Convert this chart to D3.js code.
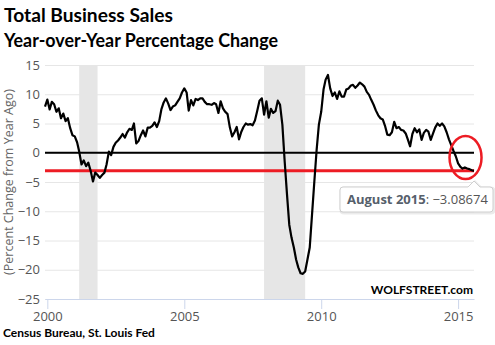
<!DOCTYPE html>
<html>
<head>
<meta charset="utf-8">
<script src="https://cdn.jsdelivr.net/npm/d3@7"></script>
<style>
  body { margin: 0; background: #fff; }
  svg { display: block; }
  .tick text { font-family: "Open Sans", sans-serif; font-size: 13px; fill: #555; }
</style>
</head>
<body>
<svg width="495" height="345"></svg>
<script>
// Total business sales, percent change from a year ago, monthly from Dec 1999
var firstMonth = new Date(1999, 11, 1);
var pctChange = [
  7.9,
  9.1, 7.4, 8.7, 8.3, 7.0, 7.6, 5.9, 6.7, 5.4, 5.9, 4.2, 3.0,          // 2000
  2.8, 1.8, 0.2, -2.0, -1.3, -2.3, -1.7, -3.1, -4.9, -3.4, -3.8, -4.3, // 2001
  -3.8, -3.4, -2.0, 0.2, -0.4, 1.0, 1.7, 2.1, 2.6, 3.2, 2.6, 3.5,      // 2002
  4.1, 3.9, 5.0, 1.6, 2.0, 3.0, 3.8, 2.8, 4.3, 4.3, 4.6, 5.2,          // 2003
  4.4, 5.4, 7.4, 8.6, 9.3, 8.4, 7.3, 7.9, 8.1, 8.7, 9.3, 10.3,         // 2004
  11.0, 10.3, 7.2, 9.0, 8.1, 9.2, 9.0, 9.3, 9.3, 8.7, 8.3, 8.3,        // 2005
  8.2, 8.5, 8.3, 6.8, 8.8, 7.6, 7.0, 6.6, 4.3, 2.8, 3.5, 4.4,          // 2006
  2.3, 3.6, 4.4, 5.0, 4.8, 4.9, 4.7, 5.5, 7.2, 8.9, 9.3, 6.5,          // 2007
  8.8, 6.0, 7.5, 6.8, 7.1, 8.9, 8.2, 4.8, -1.5, -7.0, -12.3, -14.5,    // 2008
  -16.2, -18.3, -19.6, -20.6, -20.7, -20.3, -18.3, -16.2, -10.5, -5.0, 0.5, 4.8, // 2009
  7.0, 10.8, 12.5, 13.3, 11.0, 9.7, 10.3, 9.2, 10.5, 9.6, 9.6, 10.8,   // 2010
  11.0, 11.5, 11.6, 11.1, 11.5, 12.0, 11.7, 11.3, 10.4, 9.9, 9.0, 8.2, // 2011
  7.2, 6.4, 5.9, 5.7, 4.6, 3.1, 3.0, 3.5, 5.3, 4.2, 4.4, 3.9,          // 2012
  3.8, 3.3, 2.3, 1.1, 3.2, 4.2, 3.5, 4.0, 2.2, 3.4, 3.9, 3.6,          // 2013
  2.2, 3.3, 4.3, 5.0, 4.6, 5.0, 4.5, 3.5, 2.3, 1.3, 0.3, -0.6,         // 2014
  -1.8, -2.4, -2.7, -2.5, -2.7, -2.8, -3.0, -3.08674                   // 2015
];
var recessions = [
  [new Date(2001, 2, 1), new Date(2001, 10, 1)],
  [new Date(2007, 11, 1), new Date(2009, 5, 1)]
];
var yTicks = [15, 10, 5, 0, -5, -10, -15, -20, -25];
var xTicks = [2000, 2005, 2010, 2015];

var data = pctChange.map(function(v, i) {
  return { date: d3.timeMonth.offset(firstMonth, i), value: v };
});
var lastPoint = data[data.length - 1];

var plotLeft = 45, plotRight = 474, plotTop = 65, plotBottom = 299;

var x = d3.scaleTime()
  .domain([firstMonth, lastPoint.date])
  .range([plotLeft, plotRight]);
var y = d3.scaleLinear()
  .domain([-25, 15])
  .range([plotBottom, plotTop]);

var svg = d3.select("svg");

// recession shading
svg.selectAll(".recession")
  .data(recessions)
  .enter().append("rect")
  .attr("class", "recession")
  .attr("x", function(d) { return x(d[0]); })
  .attr("width", function(d) { return x(d[1]) - x(d[0]); })
  .attr("y", plotTop)
  .attr("height", plotBottom - plotTop)
  .attr("fill", "#e6e6e6");

// horizontal grid + labels
var yAxis = svg.append("g")
  .attr("transform", "translate(" + plotLeft + ",0)")
  .call(d3.axisLeft(y).tickValues(yTicks).tickSize(-(plotRight - plotLeft)).tickPadding(5));
yAxis.select(".domain").remove();
yAxis.selectAll(".tick line").attr("stroke", "#e6e6e6");
yAxis.selectAll(".tick text").attr("x", -5);

// bottom axis
var xAxis = svg.append("g")
  .attr("transform", "translate(0," + plotBottom + ")")
  .call(d3.axisBottom(x)
    .tickValues(xTicks.map(function(yr) { return new Date(yr, 0, 1); }))
    .tickFormat(d3.timeFormat("%Y"))
    .tickSize(10).tickPadding(3).tickSizeOuter(0));
xAxis.select(".domain").attr("stroke", "#ccd6eb");
xAxis.selectAll(".tick line").attr("stroke", "#ccd6eb");

// zero line and last-value line
svg.append("line")
  .attr("x1", plotLeft).attr("x2", plotRight)
  .attr("y1", y(0)).attr("y2", y(0))
  .attr("stroke", "#000").attr("stroke-width", 2);

svg.append("line")
  .attr("x1", plotLeft).attr("x2", plotRight)
  .attr("y1", y(lastPoint.value)).attr("y2", y(lastPoint.value))
  .attr("stroke", "#ed1c24").attr("stroke-width", 3);

// series
var line = d3.line()
  .x(function(d) { return x(d.date); })
  .y(function(d) { return y(d.value); });

svg.append("path")
  .datum(data)
  .attr("d", line)
  .attr("fill", "none")
  .attr("stroke", "#000")
  .attr("stroke-width", 2.2)
  .attr("stroke-linejoin", "round");

// circle around the latest months
svg.append("ellipse")
  .attr("cx", x(new Date(2015, 3, 10)))
  .attr("cy", y(-0.8))
  .attr("rx", 16)
  .attr("ry", 21.5)
  .attr("fill", "none")
  .attr("stroke", "#ed1c24")
  .attr("stroke-width", 2.5);

// y axis title
svg.append("text")
  .attr("transform", "translate(13," + (plotTop + plotBottom) / 2 + ") rotate(-90)")
  .attr("text-anchor", "middle")
  .style("font-family", "'Open Sans', sans-serif")
  .style("font-size", "12.5px")
  .attr("fill", "#666")
  .text("(Percent Change from Year Ago)");

// titles
svg.append("text")
  .attr("x", 4).attr("y", 22)
  .style("font-family", "Lato, sans-serif")
  .style("font-weight", "bold")
  .style("font-size", "19px")
  .attr("textLength", 169).attr("lengthAdjust", "spacingAndGlyphs")
  .text("Total Business Sales");

svg.append("text")
  .attr("x", 4).attr("y", 47)
  .style("font-family", "Lato, sans-serif")
  .style("font-weight", "bold")
  .style("font-size", "18px")
  .attr("textLength", 274).attr("lengthAdjust", "spacingAndGlyphs")
  .text("Year-over-Year Percentage Change");

svg.append("text")
  .attr("x", 473).attr("y", 294)
  .attr("text-anchor", "end")
  .style("font-family", "Lato, sans-serif")
  .style("font-weight", "bold")
  .style("font-size", "12px")
  .text("WOLFSTREET.com");

svg.append("text")
  .attr("x", 3).attr("y", 337)
  .style("font-family", "Lato, sans-serif")
  .style("font-weight", "bold")
  .style("font-size", "12px")
  .text("Census Bureau, St. Louis Fed");

// tooltip for the latest point
var tx = x(lastPoint.date), tBox = { x: 340, y: 187, w: 153, h: 25 };
var tip = svg.append("g");
var callout = "M" + (tBox.x + 3) + "," + tBox.y +
  "H" + (tx - 6) + "L" + tx + "," + (tBox.y - 6) + "L" + (tx + 6) + "," + tBox.y +
  "H" + (tBox.x + tBox.w - 3) + "Q" + (tBox.x + tBox.w) + "," + tBox.y + " " + (tBox.x + tBox.w) + "," + (tBox.y + 3) +
  "V" + (tBox.y + tBox.h - 3) + "Q" + (tBox.x + tBox.w) + "," + (tBox.y + tBox.h) + " " + (tBox.x + tBox.w - 3) + "," + (tBox.y + tBox.h) +
  "H" + (tBox.x + 3) + "Q" + tBox.x + "," + (tBox.y + tBox.h) + " " + tBox.x + "," + (tBox.y + tBox.h - 3) +
  "V" + (tBox.y + 3) + "Q" + tBox.x + "," + tBox.y + " " + (tBox.x + 3) + "," + tBox.y + "Z";
tip.append("path")
  .attr("d", callout)
  .attr("transform", "translate(1,1)")
  .attr("fill", "none")
  .attr("stroke", "#000")
  .attr("stroke-opacity", 0.08)
  .attr("stroke-width", 3);
tip.append("path")
  .attr("d", callout)
  .attr("fill", "#fff")
  .attr("fill-opacity", 0.95)
  .attr("stroke", "#cfcfcf");
var tt = tip.append("text")
  .attr("x", tBox.x + 7).attr("y", tBox.y + 17)
  .style("font-family", "'Open Sans', sans-serif")
  .style("font-size", "13px");
tt.append("tspan")
  .style("font-weight", "bold")
  .attr("fill", "#56606b")
  .text(d3.timeFormat("%B %Y")(lastPoint.date));
tt.append("tspan")
  .attr("fill", "#555")
  .text(": " + d3.format("")(lastPoint.value));
</script>
</body>
</html>
